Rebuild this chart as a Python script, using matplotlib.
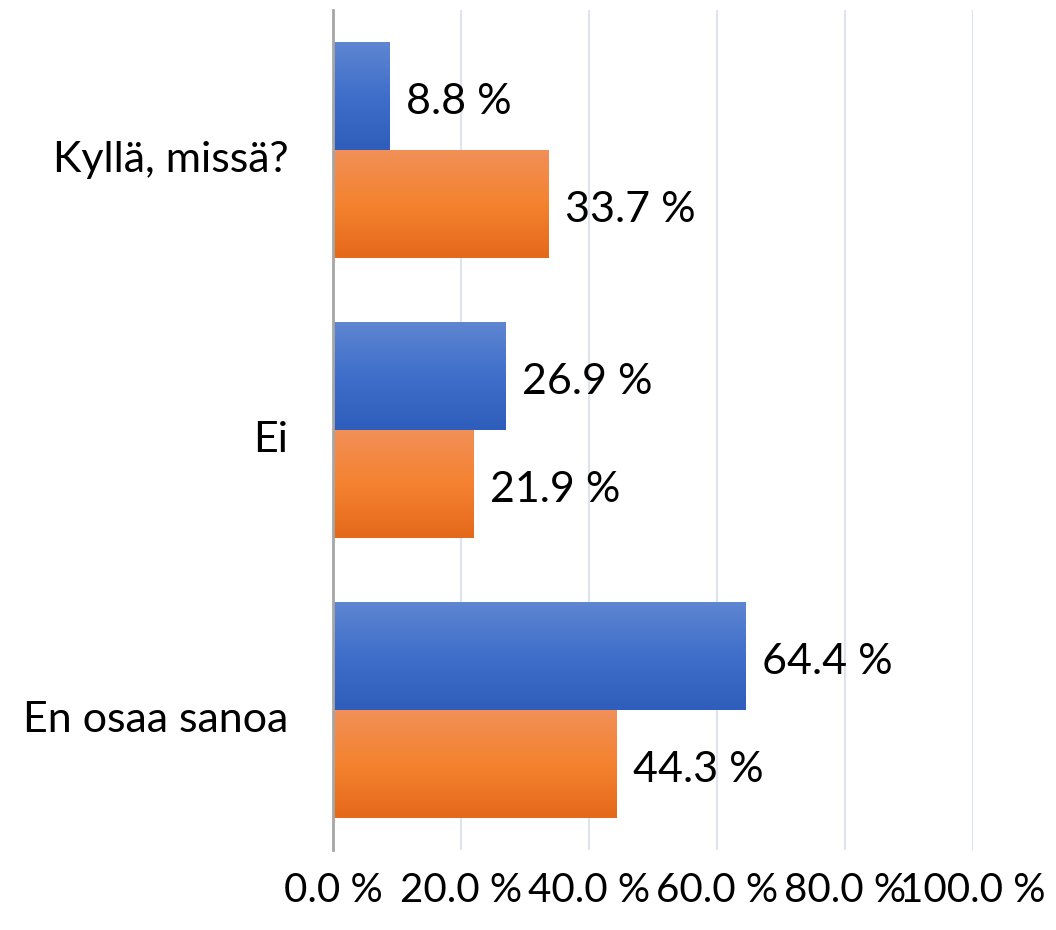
import numpy as np
import matplotlib
matplotlib.use("Agg")
import matplotlib.pyplot as plt
import matplotlib.transforms as mtransforms
from matplotlib.colors import LinearSegmentedColormap

categories = ["Kyllä, missä?", "Ei", "En osaa sanoa"]
series_a = [8.8, 26.9, 64.4]   # blue
series_b = [33.7, 21.9, 44.3]  # orange
xticks = [0, 20, 40, 60, 80, 100]
xtick_labels = ["0.0 %", "20.0 %", "40.0 %", "60.0 %", "80.0 %", "100.0 %"]

plt.rcParams["font.family"] = ["Lato", "DejaVu Sans"]
FS = 31

blue_cmap = LinearSegmentedColormap.from_list("b", ["#5f86d2", "#3f6fca", "#2e5dbb"])
orange_cmap = LinearSegmentedColormap.from_list("o", ["#f19058", "#f58230", "#e4691a"])


def gradient_fill(ax, patch, cmap):
    x0, y0 = patch.get_x(), patch.get_y()
    w, h = patch.get_width(), patch.get_height()
    grad = np.linspace(0, 1, 256).reshape(-1, 1)
    # axis is inverted: top of bar is y0 (smaller value)
    im = ax.imshow(grad, cmap=cmap, aspect="auto", extent=(x0, x0 + w, y0 + h, y0),
                   origin="upper", zorder=patch.get_zorder() + 0.1)
    im.set_clip_path(patch)
    patch.set_alpha(0)


fig = plt.figure(figsize=(10.56, 9.3), dpi=100)
ax = fig.add_axes([333 / 1056, 1 - 850 / 930, 640 / 1056, 840 / 930])

y = np.arange(len(categories))
h = 0.387
bars_a = ax.barh(y - h / 2, series_a, h, color="#4472c4", zorder=3)
bars_b = ax.barh(y + h / 2, series_b, h, color="#ed7d31", zorder=3)

ax.set_xlim(0, 100)
ax.set_ylim(2.5, -0.5)

for p in bars_a:
    gradient_fill(ax, p, blue_cmap)
for p in bars_b:
    gradient_fill(ax, p, orange_cmap)

down = mtransforms.ScaledTranslation(0, -6 / 100, fig.dpi_scale_trans)
for bars, vals in [(bars_a, series_a), (bars_b, series_b)]:
    for p, v in zip(bars, vals):
        ax.text(v + 2.6, p.get_y() + p.get_height() / 2, f"{v:.1f} %",
                va="center", ha="left", fontsize=FS, color="#000000", zorder=5,
                transform=ax.transData + down)

ax.set_xticks(xticks)
ax.set_xticklabels(xtick_labels, fontsize=29)
ax.set_yticks(y)
ax.set_yticklabels(categories, fontsize=FS)
ax.tick_params(axis="x", length=0, pad=16)
ax.tick_params(axis="y", length=0, pad=32)
for lbl in ax.get_yticklabels():
    lbl.set_transform(lbl.get_transform() + down)

ax.grid(axis="x", color="#dce4ef", linewidth=1.5, zorder=0)
ax.set_axisbelow(True)
for s in ["top", "right", "bottom"]:
    ax.spines[s].set_visible(False)
ax.spines["left"].set_color("#a6a6a6")
ax.spines["left"].set_linewidth(2)
ax.spines["left"].set_zorder(4)

fig.savefig("out.png", dpi=100)
